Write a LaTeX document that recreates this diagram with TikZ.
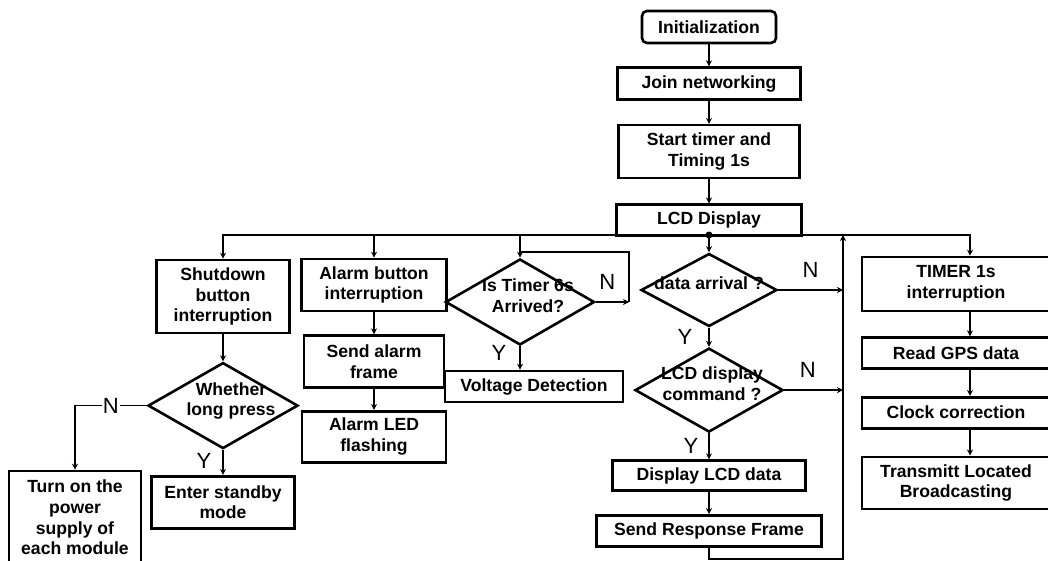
\documentclass[tikz,border=0pt]{standalone}
\usepackage{fontspec}
\setmainfont{Liberation Sans}
\usetikzlibrary{shapes.geometric, arrows.meta, positioning}
\newcommand{\dtxt}[1]{\makebox[0pt]{\smash{\begin{tabular}{@{}c@{}}#1\end{tabular}}}}

\begin{document}
\begin{tikzpicture}[
    x=1pt, y=-1pt,
    node distance=22pt,
    proc/.style={rectangle, draw, line width=2.6pt, inner sep=0pt, align=center, font=\fontsize{17.6}{20.6}\selectfont\bfseries},
    decision/.style={diamond, draw, line width=2.6pt, inner sep=0pt, font=\fontsize{17.6}{20.6}\selectfont\bfseries},
    arrow/.style={-{Stealth[length=6pt, width=6pt]}, line width=1.6pt},
    yn/.style={font=\fontsize{22}{22}\selectfont, inner sep=1pt},
]
\useasboundingbox (0,0) rectangle (1048,561);

\node[proc, rounded corners=5pt, minimum width=134pt, minimum height=32pt] (init) at (709,27) {Initialization};
\node[proc, minimum width=183pt, minimum height=32pt, below=22pt of init] (join) {Join networking};
\node[proc, minimum width=181pt, minimum height=53pt, below=23pt of join] (start) {Start timer and\\Timing 1s};
\node[proc, minimum width=185pt, minimum height=31pt, below=24pt of start] (lcd) {LCD Display};

\coordinate (dot) at (709,235);
\coordinate (busL) at (223,235);
\coordinate (busR) at (970,235);
\coordinate (ret) at (843,559);
\coordinate (t6loop) at (629,302);
\coordinate (t6top) at (520,252);

\node[proc, minimum width=133pt, minimum height=73pt] (shut) at (223,296.5) {Shutdown\\button\\interruption};
\node[decision, minimum width=150pt, minimum height=86pt, below=27pt of shut] (press) {\hspace{16pt}\dtxt{Whether\\long press}};
\node[proc, minimum width=143pt, minimum height=52pt, below=25pt of press] (standby) {Enter standby\\mode};
\node[proc, minimum width=132pt, minimum height=93pt] (power) at (75,517.5) {Turn on the\\power\\supply of\\each module};

\node[proc, minimum width=145pt, minimum height=52pt] (alarm) at (374,285) {Alarm button\\interruption};
\node[proc, minimum width=140pt, minimum height=52pt, below=22pt of alarm] (frame) {Send alarm\\frame};
\node[proc, minimum width=144pt, minimum height=51pt, below=21pt of frame] (led) {Alarm LED\\flashing};

\node[decision, minimum width=149pt, minimum height=86pt] (t6) at (520,302) {\hspace{16pt}\dtxt{Is Timer 6s\\Arrived?}};
\node[proc, minimum width=178pt, minimum height=31pt] (volt) at (534,386.5) {Voltage Detection};

\node[decision, minimum width=136pt, minimum height=73pt] (data) at (709,290) {\dtxt{data arrival ?}};
\node[decision, minimum width=148pt, minimum height=84pt, below=19pt of data] (cmd) {\hspace{6pt}\dtxt{LCD display\\command ?}};
\node[proc, minimum width=193pt, minimum height=30pt, below=26pt of cmd] (show) {Display LCD data};
\node[proc, minimum width=225pt, minimum height=31pt, below=22pt of show] (resp) {Send Response Frame};

\node[proc, minimum width=188pt, minimum height=54pt] (tim) at (956,284) {TIMER 1s\\interruption};
\node[proc, minimum width=188pt, minimum height=31pt, below=24pt of tim] (gps) {Read GPS data};
\node[proc, minimum width=188pt, minimum height=31pt, below=26pt of gps] (clock) {Clock correction};
\node[proc, minimum width=188pt, minimum height=52pt, below=26pt of clock] (bcast) {Transmitt Located\\Broadcasting};

\draw[arrow] (init) -- (join);
\draw[arrow] (join) -- (start);
\draw[arrow] (start) -- (lcd);
\draw[line width=1.6pt] (lcd) -- (dot);
\draw[arrow] (busR) -- (busL) -- (busL |- shut.north);
\draw[arrow] (busL) -- (busR) -- (busR |- tim.north);
\fill (dot) circle (3.5pt);

\draw[arrow] (shut) -- (press);
\draw[arrow] (press) -- node[yn, left=10pt, pos=0.45] (ypress) {Y} (standby);
\draw[arrow] (press.west) -- node[yn, fill=white] (npress) {N} (press.west -| power) -- (power);

\draw[arrow] (alarm.north |- busL) -- (alarm);
\draw[arrow] (alarm) -- (frame);
\draw[arrow] (frame) -- (led);

\draw[arrow] (t6.north |- busL) -- (t6);
\draw[arrow] (t6) -- node[yn, left=12pt, pos=0.3] (yt6) {Y} (t6.south |- volt.north);
\draw[arrow] (t6.east) -- node[yn, above=11pt, pos=0.35] (nt6) {N} (t6loop);
\draw[line width=1.6pt] (t6loop) |- (t6top);

\draw[arrow] (dot) -- (data);
\draw[arrow] (data.east) -- node[yn, above=11pt] (ndata) {N} (data.east -| ret);
\draw[arrow] (data) -- node[yn, left=15pt] (ydata) {Y} (cmd);
\draw[arrow] (cmd.east) -- node[yn, above=11pt, pos=0.4] (ncmd) {N} (cmd.east -| ret);
\draw[arrow] (cmd) -- node[yn, left=9pt] (ycmd) {Y} (show);
\draw[arrow] (show) -- (resp);
\draw[arrow] (resp.south) -- (resp.south |- ret) -- (ret) -- (ret |- busL);

\draw[arrow] (busR |- tim.south) -- (busR |- gps.north);
\draw[arrow] (busR |- gps.south) -- (busR |- clock.north);
\draw[arrow] (busR |- clock.south) -- (busR |- bcast.north);

\end{tikzpicture}
\end{document}
